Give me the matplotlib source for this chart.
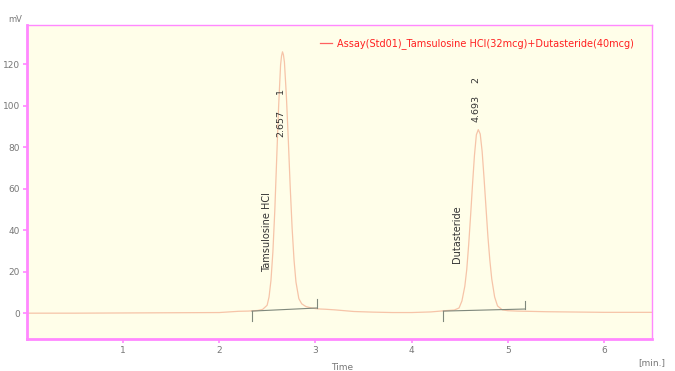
import matplotlib
matplotlib.use("Agg")
from matplotlib import pyplot as plt

# chromatogram trace (time in min, signal in mV)
time_min = [0.00, 0.50, 1.00, 1.50, 2.00, 2.10, 2.20, 2.30, 2.40, 2.45,
            2.497, 2.517, 2.537, 2.557, 2.577, 2.597, 2.617, 2.637, 2.647, 2.657,
            2.667, 2.677, 2.697, 2.717, 2.737, 2.757, 2.777, 2.797, 2.827, 2.857,
            2.90, 2.95, 3.00, 3.05, 3.10, 3.20, 3.30, 3.40, 3.60, 3.80,
            4.00, 4.20, 4.35, 4.443, 4.493, 4.523, 4.553, 4.573, 4.593, 4.613,
            4.633, 4.653, 4.673, 4.693, 4.713, 4.733, 4.753, 4.773, 4.793, 4.813,
            4.833, 4.863, 4.893, 4.943, 5.00, 5.10, 5.20, 5.40, 5.60, 5.80,
            6.00, 6.20, 6.50]
signal_mv = [0.0, 0.0, 0.1, 0.2, 0.3, 0.6, 0.9, 1.0, 1.3, 1.8,
             3.8, 7.8, 15.8, 29.5, 49.6, 75.0, 100.0, 119.7, 124.0, 126.0,
             124.5, 121.0, 105.0, 84.0, 61.0, 41.0, 25.5, 15.0, 7.0, 4.5,
             3.2, 2.6, 2.2, 2.0, 1.9, 1.6, 1.2, 0.8, 0.5, 0.3,
             0.3, 0.6, 1.2, 1.5, 2.5, 5.9, 13.0, 21.0, 33.0, 47.0,
             62.0, 76.0, 86.0, 88.5, 86.4, 78.0, 65.0, 51.0, 37.0, 25.6,
             16.5, 7.8, 3.5, 1.6, 1.2, 1.0, 0.9, 0.7, 0.6, 0.5,
             0.4, 0.4, 0.4]

# integration baselines: (start time, start mV, end time, end mV)
base_start_t = [2.34, 4.33]
base_start_v = [1.0, 1.0]
base_end_t = [3.02, 5.18]
base_end_v = [2.5, 2.0]
base_drop_lo = [-4.0, -4.0]
base_drop_hi = [7.0, 6.0]

# peak annotations
peak_rt_text = ["2.657", "4.693"]
peak_num_text = ["1", "2"]
peak_rt_x = [2.64, 4.67]
peak_rt_y = [85, 92]
peak_num_y = [105.5, 111]
peak_names = ["Tamsulosine HCl", "Dutasteride"]
peak_name_x = [2.50, 4.47]
peak_name_y = [20, 24]

x_ticks = [1, 2, 3, 4, 5, 6]
y_ticks = [0, 20, 40, 60, 80, 100, 120]
trace_label = "Assay(Std01)_Tamsulosine HCl(32mcg)+Dutasteride(40mcg)"

frame_col = "#ff88ff"
fig = plt.figure(figsize=(6.75, 3.71), dpi=100)
ax = fig.add_axes([0.040, 0.086, 0.926, 0.847])
ax.set_facecolor("#fffee9")

ax.plot(time_min, signal_mv, color="#f6c4a8", lw=0.9, label=trace_label)

for i in range(len(base_start_t)):
    ax.plot([base_start_t[i], base_end_t[i]], [base_start_v[i], base_end_v[i]],
            color="#7f887c", lw=0.8)
    ax.plot([base_start_t[i], base_start_t[i]], [base_start_v[i], base_drop_lo[i]],
            color="#7f887c", lw=0.8)
    ax.plot([base_end_t[i], base_end_t[i]], [base_end_v[i], base_drop_hi[i]],
            color="#7f887c", lw=0.8)

for i in range(len(peak_rt_text)):
    ax.text(peak_rt_x[i], peak_rt_y[i], peak_rt_text[i], rotation=90,
            ha="center", va="bottom", fontsize=6.8, color="#333333")
    ax.text(peak_rt_x[i], peak_num_y[i], peak_num_text[i], rotation=90,
            ha="center", va="bottom", fontsize=6.8, color="#333333")
    ax.text(peak_name_x[i], peak_name_y[i], peak_names[i], rotation=90,
            ha="center", va="bottom", fontsize=7, color="#333333")

ax.set_xlim(0, 6.5)
ax.set_ylim(-12.5, 139)
ax.set_xticks(x_ticks)
ax.set_yticks(y_ticks)
ax.tick_params(axis="both", direction="out", length=3, width=1.2,
               color=frame_col, labelsize=6.5, labelcolor="#777777", pad=2)
for sp in ax.spines.values():
    sp.set_color(frame_col)
    sp.set_linewidth(2.0)
ax.spines["top"].set_linewidth(1.0)
ax.spines["right"].set_linewidth(1.0)

leg = ax.legend(loc="upper right", frameon=False, fontsize=7,
                handlelength=1.3, handletextpad=0.5,
                bbox_to_anchor=(0.985, 0.985))
for t in leg.get_texts():
    t.set_color("#ff2020")
leg.get_lines()[0].set_color("#ff6060")

fig.text(15 / 675, 1 - 20 / 371, "mV", fontsize=6, color="#777777",
         ha="center", va="center")
fig.text(342 / 675, 1 - 368 / 371, "Time", fontsize=6.5, color="#777777",
         ha="center", va="center")
fig.text(652 / 675, 1 - 363 / 371, "[min.]", fontsize=6.5, color="#777777",
         ha="center", va="center")

fig.savefig("out.png", dpi=100)
